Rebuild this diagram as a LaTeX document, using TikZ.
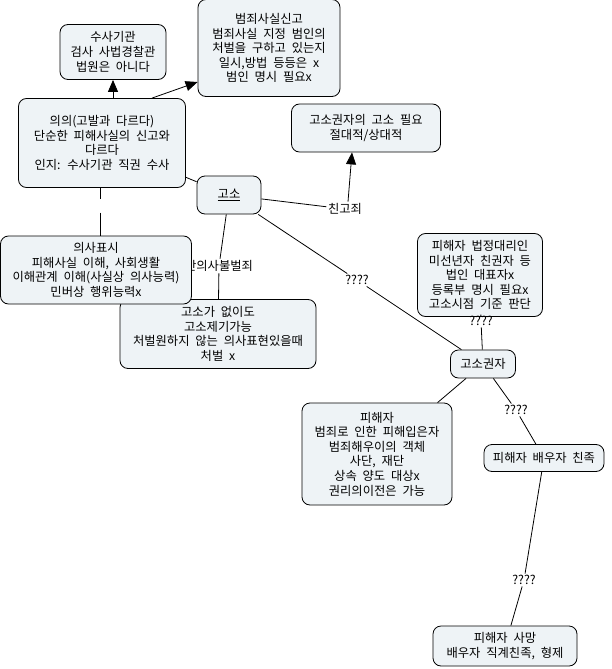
\documentclass[tikz,border=0pt]{standalone}
\usepackage{fontspec}
\setmainfont{Noto Sans CJK KR}[WordSpace=2.1]
\usepackage{tikz}
\usetikzlibrary{arrows.meta}
\definecolor{boxfill}{HTML}{EEF3F6}
\tikzset{
  box/.style={draw, line width=0.8pt, rounded corners=8pt, fill=boxfill, align=center, inner sep=2pt, font=\fontsize{12.3}{14.6}\selectfont},
  lbl/.style={inner sep=1.5pt, font=\fontsize{12.3}{14.6}\selectfont},
  link/.style={line width=0.8pt},
  arr/.style={line width=0.8pt, -{Triangle[width=10pt,length=12pt]}}
}
\begin{document}
\begin{tikzpicture}[x=1pt, y=-1pt]
\useasboundingbox (0,0) rectangle (611,669);
\node[box, minimum width=106pt, minimum height=55pt] (susa) at (113,52) {수사기관\\검사 사법경찰관\\법원은 아니다};
\node[box, minimum width=142pt, minimum height=97pt] (bumjoe) at (269,48) {범죄사실신고\\범죄사실 지정 범인의\\처벌을 구하고 있는지\\일시,방법 등등은 x\\범인 명시 필요x};
\node[box, minimum width=167pt, minimum height=89pt] (uiui) at (102,143) {의의(고발과 다르다)\\단순한 피해사실의 신고와\\다르다\\ 인지: 수사기관 직권 수사};
\node[box, minimum width=149pt, minimum height=48pt] (pilyo) at (366,128) {고소권자의 고소 필요\\절대적/상대적};
\node[box, minimum width=64pt, minimum height=38pt] (goso) at (229,195) {\underline{고소}};
\node[lbl] (chingo) at (345,209) {친고죄};
\node[lbl] (banui) at (219,266) {반의사불벌죄};
\node[box, minimum width=196pt, minimum height=69pt] (eopsi) at (218,334) {고소가 없이도\\고소제기가능\\처벌원하지 않는 의사표현있을때\\처벌 x};
\node[box, minimum width=191pt, minimum height=68pt] (uisa) at (96,270) {의사표시\\피해사실 이해, 사회생활\\이해관계 이해(사실상 의사능력)\\민버상 행위능력x};
\node[inner sep=0pt, minimum width=4pt, minimum height=13pt] (gap) at (100,206) {};
\node[lbl] (q1) at (357,280) {????};
\node[box, minimum width=125pt, minimum height=83pt] (daeri) at (480,275) {피해자 법정대리인\\미선년자 친권자 등\\법인 대표자x\\등록부 명시 필요x\\고소시점 기준 판단};
\node[lbl] (q2) at (481,321) {????};
\node[box, minimum width=65pt, minimum height=28pt] (gwonja) at (483,364) {고소권자};
\node[box, minimum width=150pt, minimum height=102pt] (pihae) at (377,454) {피해자\\범죄로 인한 피해입은자\\범죄해우이의 객체\\사단, 재단\\상속 양도 대상x\\권리의이전은 가능};
\node[lbl] (q3) at (516,410) {????};
\node[box, minimum width=120pt, minimum height=27pt] (chinjok) at (544,458) {피해자 배우자 친족};
\node[lbl] (q4) at (524,580) {????};
\node[box, minimum width=144pt, minimum height=40pt] (samang) at (505,646) {피해자 사망\\배우자 직계친족, 형제};
\draw[arr] (uiui.north -| susa) -- (susa.south);
\draw[arr] ([xshift=50pt]uiui.north) -- ([yshift=-34pt]bumjoe.west);
\draw[link] (uiui) -- (goso);
\draw[link] (uiui.south -| gap) -- (gap) -- (uisa.north -| gap);
\draw[link] (goso) -- (chingo);
\draw[arr] ([xshift=3pt]chingo.north) -- ([xshift=-14pt]pilyo.south);
\draw[link] (goso) -- (banui) -- (eopsi);
\draw[link] (goso) -- (q1) -- (gwonja);
\draw[link] (daeri) -- (q2) -- (gwonja);
\draw[link] (gwonja) -- (pihae);
\draw[link] (gwonja) -- (q3) -- (chinjok);
\draw[link] (chinjok) -- (q4) -- (samang);
\end{tikzpicture}
\end{document}
